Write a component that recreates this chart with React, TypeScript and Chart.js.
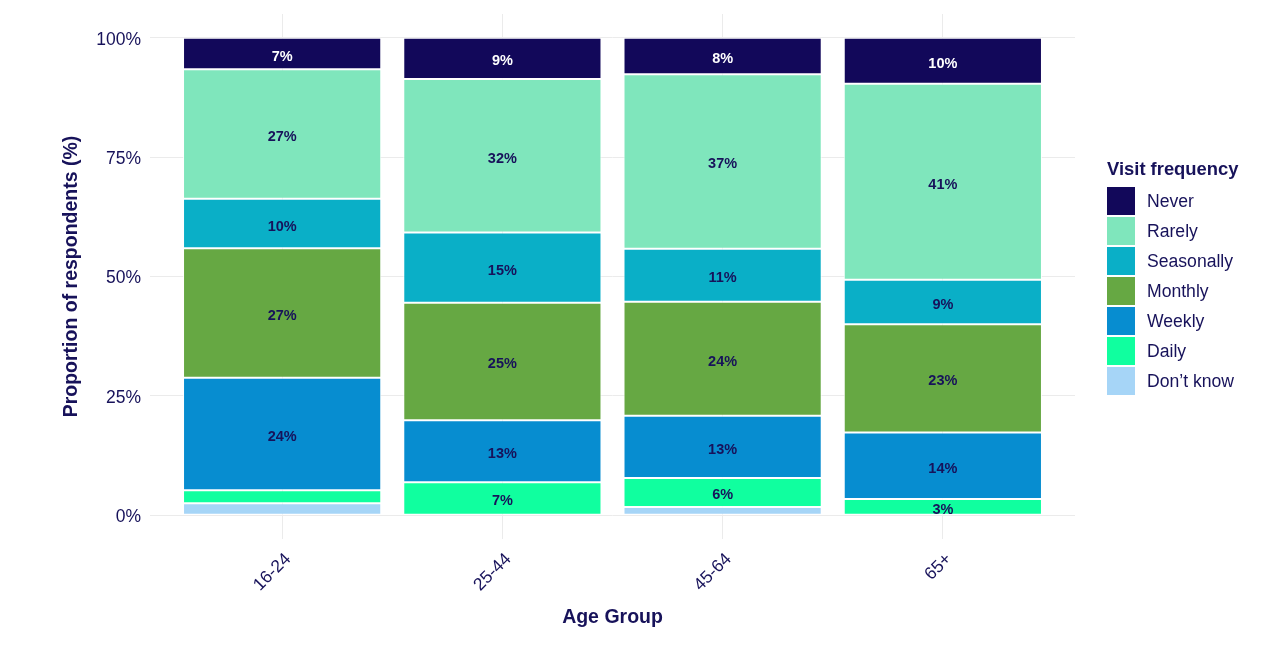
import React, { useEffect, useRef } from "react";
import { Chart, registerables } from "chart.js";

Chart.register(...registerables);

// ---- Data ----
const ageGroups = ["16-24", "25-44", "45-64", "65+"];
// stacking order: bottom -> top
const frequencyLabels = ["Don’t know", "Daily", "Weekly", "Monthly", "Seasonally", "Rarely", "Never"];
const dontKnow = [2.5, 0, 1.7, 0];
const daily = [2.7, 6.9, 6.1, 3.4];
const weekly = [23.6, 13.0, 13.0, 13.9];
const monthly = [27.1, 24.6, 23.9, 22.7];
const seasonally = [10.4, 14.7, 11.1, 9.3];
const rarely = [27.1, 32.2, 36.6, 41.1];
const never = [6.6, 8.6, 7.6, 9.6];
const yTickValues = [0, 25, 50, 75, 100];

const seriesValues = [dontKnow, daily, weekly, monthly, seasonally, rarely, never];
const seriesColors = ["#a6d5f7", "#10ff9f", "#078dd0", "#66a843", "#0aafc7", "#7fe6bc", "#12085a"];

const TEXT = "#17125a";
const FONT = "'Liberation Sans', Arial, Helvetica, sans-serif";
const LABEL_MIN = 3;

const barLabelPlugin = {
  id: "barLabels",
  afterDatasetsDraw(chart: any) {
    const ctx = chart.ctx;
    ctx.save();
    ctx.font = `bold 14.5px ${FONT}`;
    ctx.textAlign = "center";
    ctx.textBaseline = "middle";
    chart.data.datasets.forEach((ds: any, di: number) => {
      const meta = chart.getDatasetMeta(di);
      meta.data.forEach((el: any, i: number) => {
        const v = ds.data[i].y;
        if (v < LABEL_MIN) return;
        const props = el.getProps(["x", "y", "base"], true);
        ctx.fillStyle = ds.label === "Never" ? "#ffffff" : TEXT;
        ctx.fillText(Math.round(v) + "%", props.x, (props.y + props.base) / 2 + 3);
      });
    });
    ctx.restore();
  },
};

const legendPlugin = {
  id: "customLegend",
  afterDraw(chart: any) {
    const ctx = chart.ctx;
    const area = chart.chartArea;
    const x0 = area.right + 32;
    const cy = (area.top + area.bottom) / 2;
    ctx.save();
    ctx.fillStyle = TEXT;
    ctx.font = `bold 18.4px ${FONT}`;
    ctx.textAlign = "left";
    ctx.textBaseline = "middle";
    ctx.fillText("Visit frequency", x0, cy - 107);
    const items = chart.data.datasets.slice().reverse();
    const top = cy - 89.5;
    items.forEach((ds: any, i: number) => {
      const y = top + i * 30;
      ctx.fillStyle = ds.backgroundColor;
      ctx.fillRect(x0, y, 28, 28);
      ctx.fillStyle = TEXT;
      ctx.font = `17.6px ${FONT}`;
      ctx.fillText(ds.label, x0 + 40, y + 15);
    });
    ctx.restore();
  },
};

export default function App() {
  const ref = useRef<HTMLCanvasElement | null>(null);

  useEffect(() => {
    if (!ref.current) return;
    const datasets = frequencyLabels.map((label, si) => ({
      label,
      data: ageGroups.map((_, i) => ({ x: i + 1, y: seriesValues[si][i] })),
      backgroundColor: seriesColors[si],
      borderColor: "rgba(255,255,255,0.85)",
      borderWidth: 1,
      borderSkipped: false,
      categoryPercentage: 0.9,
      barPercentage: 1.0,
    }));

    const chart = new Chart(ref.current, {
      type: "bar",
      data: { datasets },
      plugins: [barLabelPlugin, legendPlugin],
      options: {
        animation: false,
        responsive: false,
        events: [],
        layout: { padding: { top: 6, right: 190, left: 0, bottom: 0 } },
        plugins: {
          legend: { display: false },
          tooltip: { enabled: false },
        },
        scales: {
          x: {
            type: "linear",
            stacked: true,
            offset: false,
            min: 0.4,
            max: 4.6,
            afterBuildTicks(scale: any) {
              scale.ticks = ageGroups.map((_, i) => ({ value: i + 1 }));
            },
            afterFit(scale: any) {
              scale.height = 106;
              scale.paddingLeft = 0;
              scale.paddingRight = 0;
            },
            grid: { color: "#ebebeb", lineWidth: 1, drawTicks: false, offset: false },
            border: { display: false },
            ticks: {
              autoSkip: false,
              minRotation: 45,
              maxRotation: 45,
              padding: 10,
              labelOffset: 6,
              color: TEXT,
              font: { family: FONT, size: 17.5 },
              callback: (v: any) => ageGroups[Math.round(v) - 1] ?? "",
            },
            title: {
              display: true,
              text: "Age Group",
              color: TEXT,
              font: { family: FONT, size: 19.5, weight: "bold" },
              padding: { top: 0, bottom: 16 },
            },
          },
          y: {
            stacked: true,
            min: -5,
            max: 105,
            afterBuildTicks(scale: any) {
              scale.ticks = yTickValues.map((v) => ({ value: v }));
            },
            afterFit(scale: any) {
              scale.width = 142;
              scale.paddingTop = 0;
              scale.paddingBottom = 0;
            },
            grid: { color: "#ebebeb", lineWidth: 1, drawTicks: false },
            border: { display: false },
            ticks: {
              padding: 9,
              labelOffset: 2,
              color: TEXT,
              font: { family: FONT, size: 17.5 },
              callback: (v: any) => v + "%",
            },
            title: {
              display: true,
              text: "Proportion of respondents (%)",
              color: TEXT,
              font: { family: FONT, size: 19.5, weight: "bold" },
              padding: { top: 52, bottom: 0 },
            },
          },
        },
      } as any,
    });
    return () => chart.destroy();
  }, []);

  return (
    <div style={{ width: 1257, height: 637 }}>
      <canvas ref={ref} width={1257} height={637} style={{ display: "block" }} />
    </div>
  );
}
